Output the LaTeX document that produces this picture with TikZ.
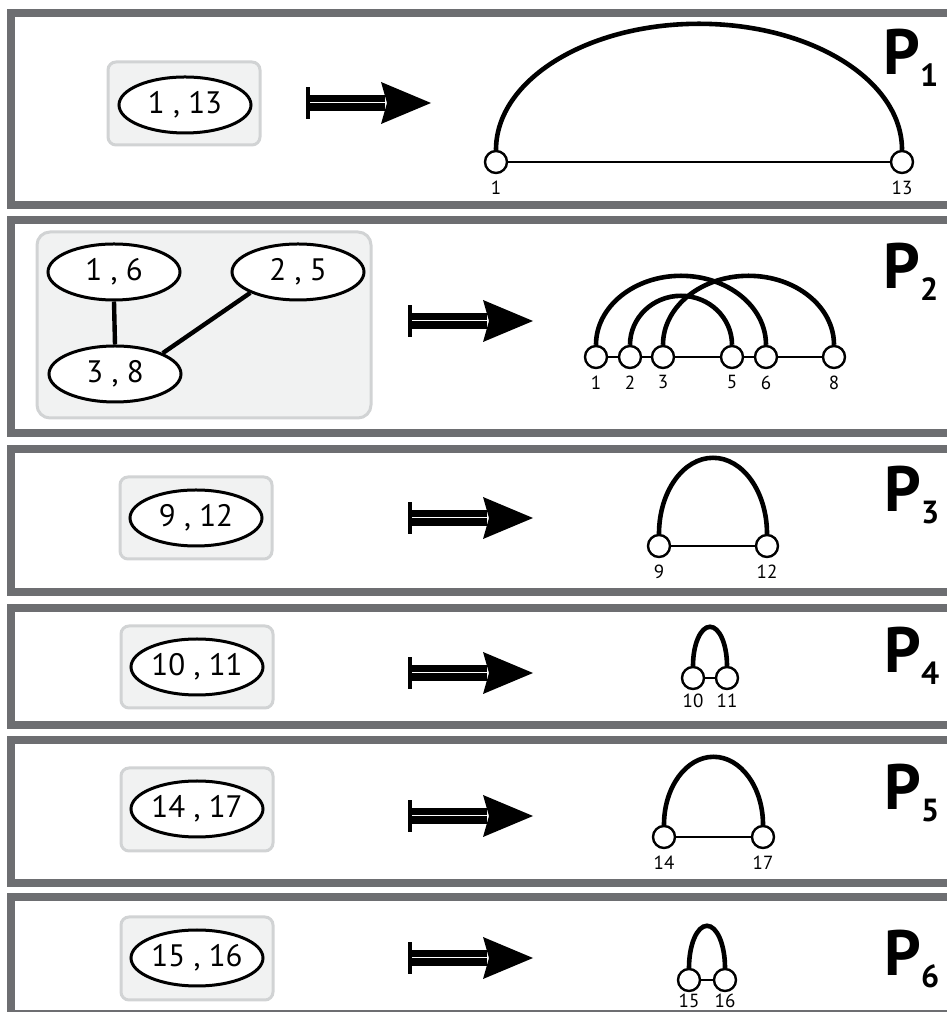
\documentclass[tikz,border=0pt]{standalone}
\usepackage{fontspec}
\setmainfont{PT Sans}
\usetikzlibrary{shapes.geometric}

\definecolor{frameGray}{HTML}{6D6E71}
\definecolor{boxFill}{HTML}{F1F2F2}
\definecolor{boxEdge}{HTML}{D1D3D4}

% bold P with a lowered index
\newcommand{\plabel}[1]{{\fontsize{32}{32}\selectfont\bfseries P}\raisebox{-6pt}{\fontsize{16}{16}\selectfont\bfseries #1}}

\begin{document}
\begin{tikzpicture}[x=0.5pt,y=0.5pt,
  frame/.style={draw=frameGray,line width=4pt},
  pbox/.style={draw=boxEdge,fill=boxFill,line width=1.5pt,rounded corners=4pt},
  pair/.style={ellipse,draw,fill=white,line width=1.5pt,minimum width=66pt,
    minimum height=28pt,inner sep=0pt,font=\fontsize{15.5}{15.5}\selectfont},
  base/.style={circle,draw,fill=white,line width=1.2pt,minimum size=11pt,inner sep=0pt},
  idx/.style={font=\fontsize{9.5}{10}\selectfont,inner sep=0pt,label distance=3pt},
  tight/.style={idx,label distance=0.5pt},
  chain/.style={line width=1pt},
  bond/.style={line width=2.3pt},
  link/.style={line width=2.2pt},
  ptag/.style={anchor=base west,inner sep=0pt}]
  \clip (0,0) rectangle (947,1012);

  % panel frames
  \foreach \lo/\hi in {806.5/998.5,579/792,420/563,286.5/404,128.5/271.5,-2/114.5}
    \draw[frame] (11,\lo) rectangle (980,\hi);

  % maps-to arrows
  \foreach \x/\y in {308/909,410/691,410/494,410/339,410/196,410/54} {
    \draw[line width=2pt] (\x,\y-16) -- (\x,\y+16);
    \fill (\x,\y-8) rectangle (\x+77,\y+8);
    \draw[white,line width=0.5pt] (\x+2,\y) -- (\x+78,\y);
    \fill (\x+73,\y+21) -- (\x+123,\y) -- (\x+73,\y-21) -- (\x+79,\y) -- cycle;
  }

  % P1
  \draw[pbox] (108,867) rectangle (260,950);
  \node[pair] (e113) at (185,907) {1 , 13};
  \node[base,label={[idx]below:1}] (a1) at (496,850) {};
  \node[base,label={[idx]below:13}] (a13) at (902,850) {};
  \draw[chain] (a1) -- (a13);
  \draw[bond] (a1.north) arc[start angle=180,end angle=0,x radius=101.5pt,y radius=63pt];
  \node[ptag] (t1) at (883,937) {\plabel{1}};

  % P2
  \draw[pbox,rounded corners=6.5pt] (37,594) rectangle (371,780);
  \node[pair] (e16) at (114,740) {1 , 6};
  \node[pair] (e25) at (298,740) {2 , 5};
  \node[pair] (e38) at (115,638) {3 , 8};
  \draw[link] (e16.south) -- (e38.north);
  \draw[link] (e25.south west) -- (e38.north east);
  \node[base,label={[idx]below:1}] (b1) at (596,655) {};
  \node[base,label={[idx]below:2}] (b2) at (630,655) {};
  \node[base,label={[idx]below:3}] (b3) at (663,655) {};
  \node[base,label={[idx]below:5}] (b5) at (732,655) {};
  \node[base,label={[idx]below:6}] (b6) at (766,655) {};
  \node[base,label={[idx]below:8}] (b8) at (834,655) {};
  \draw[chain] (b1) -- (b2) -- (b3) -- (b5) -- (b6) -- (b8);
  \draw[bond] (b1.north) arc[start angle=180,end angle=0,x radius=42.5pt,y radius=34.5pt];
  \draw[bond] (b2.north) arc[start angle=180,end angle=0,x radius=25.5pt,y radius=24.5pt];
  \draw[bond] (b3.north) arc[start angle=180,end angle=0,x radius=42.75pt,y radius=34.5pt];
  \node[ptag] (t2) at (883,723) {\plabel{2}};

  % P3
  \draw[pbox] (120,453) rectangle (272,535);
  \node[pair] (e912) at (196,494) {9 , 12};
  \node[base,label={[idx]below:9}] (c9) at (659,466) {};
  \node[base,label={[idx]below:12}] (c12) at (767,466) {};
  \draw[chain] (c9) -- (c12);
  \draw[bond] (c9.north) arc[start angle=180,end angle=0,x radius=27pt,y radius=38pt];
  \node[ptag] (t3) at (884,500) {\plabel{3}};

  % P4
  \draw[pbox] (121,304) rectangle (273,386);
  \node[pair] (e1011) at (197,345) {10 , 11};
  \node[base,label={[idx,label distance=1.5pt]below:10}] (d10) at (693,334) {};
  \node[base,label={[idx,label distance=1.5pt]below:11}] (d11) at (727,334) {};
  \draw[chain] (d10) -- (d11);
  \draw[bond] (d10.north) arc[start angle=180,end angle=0,x radius=8.5pt,y radius=19.5pt];
  \node[ptag] (t4) at (884,339) {\plabel{4}};

  % P5
  \draw[pbox] (121,161) rectangle (273,244);
  \node[pair] (e1417) at (197,203) {14 , 17};
  \node[base,label={[idx]below:14}] (f14) at (664,175) {};
  \node[base,label={[idx]below:17}] (f17) at (763,175) {};
  \draw[chain] (f14) -- (f17);
  \draw[bond] (f14.north) arc[start angle=180,end angle=0,x radius=24.75pt,y radius=34pt];
  \node[ptag] (t5) at (884,202) {\plabel{5}};

  % P6
  \draw[pbox] (121,12) rectangle (273,95);
  \node[pair] (e1516) at (197,54) {15 , 16};
  \node[base,label={[tight]below:15}] (g15) at (689,32) {};
  \node[base,label={[tight]below:16}] (g16) at (725,32) {};
  \draw[chain] (g15) -- (g16);
  \draw[bond] (g15.north) arc[start angle=180,end angle=0,x radius=9pt,y radius=21pt];
  \node[ptag] (t6) at (884,36) {\plabel{6}};
\end{tikzpicture}
\end{document}
